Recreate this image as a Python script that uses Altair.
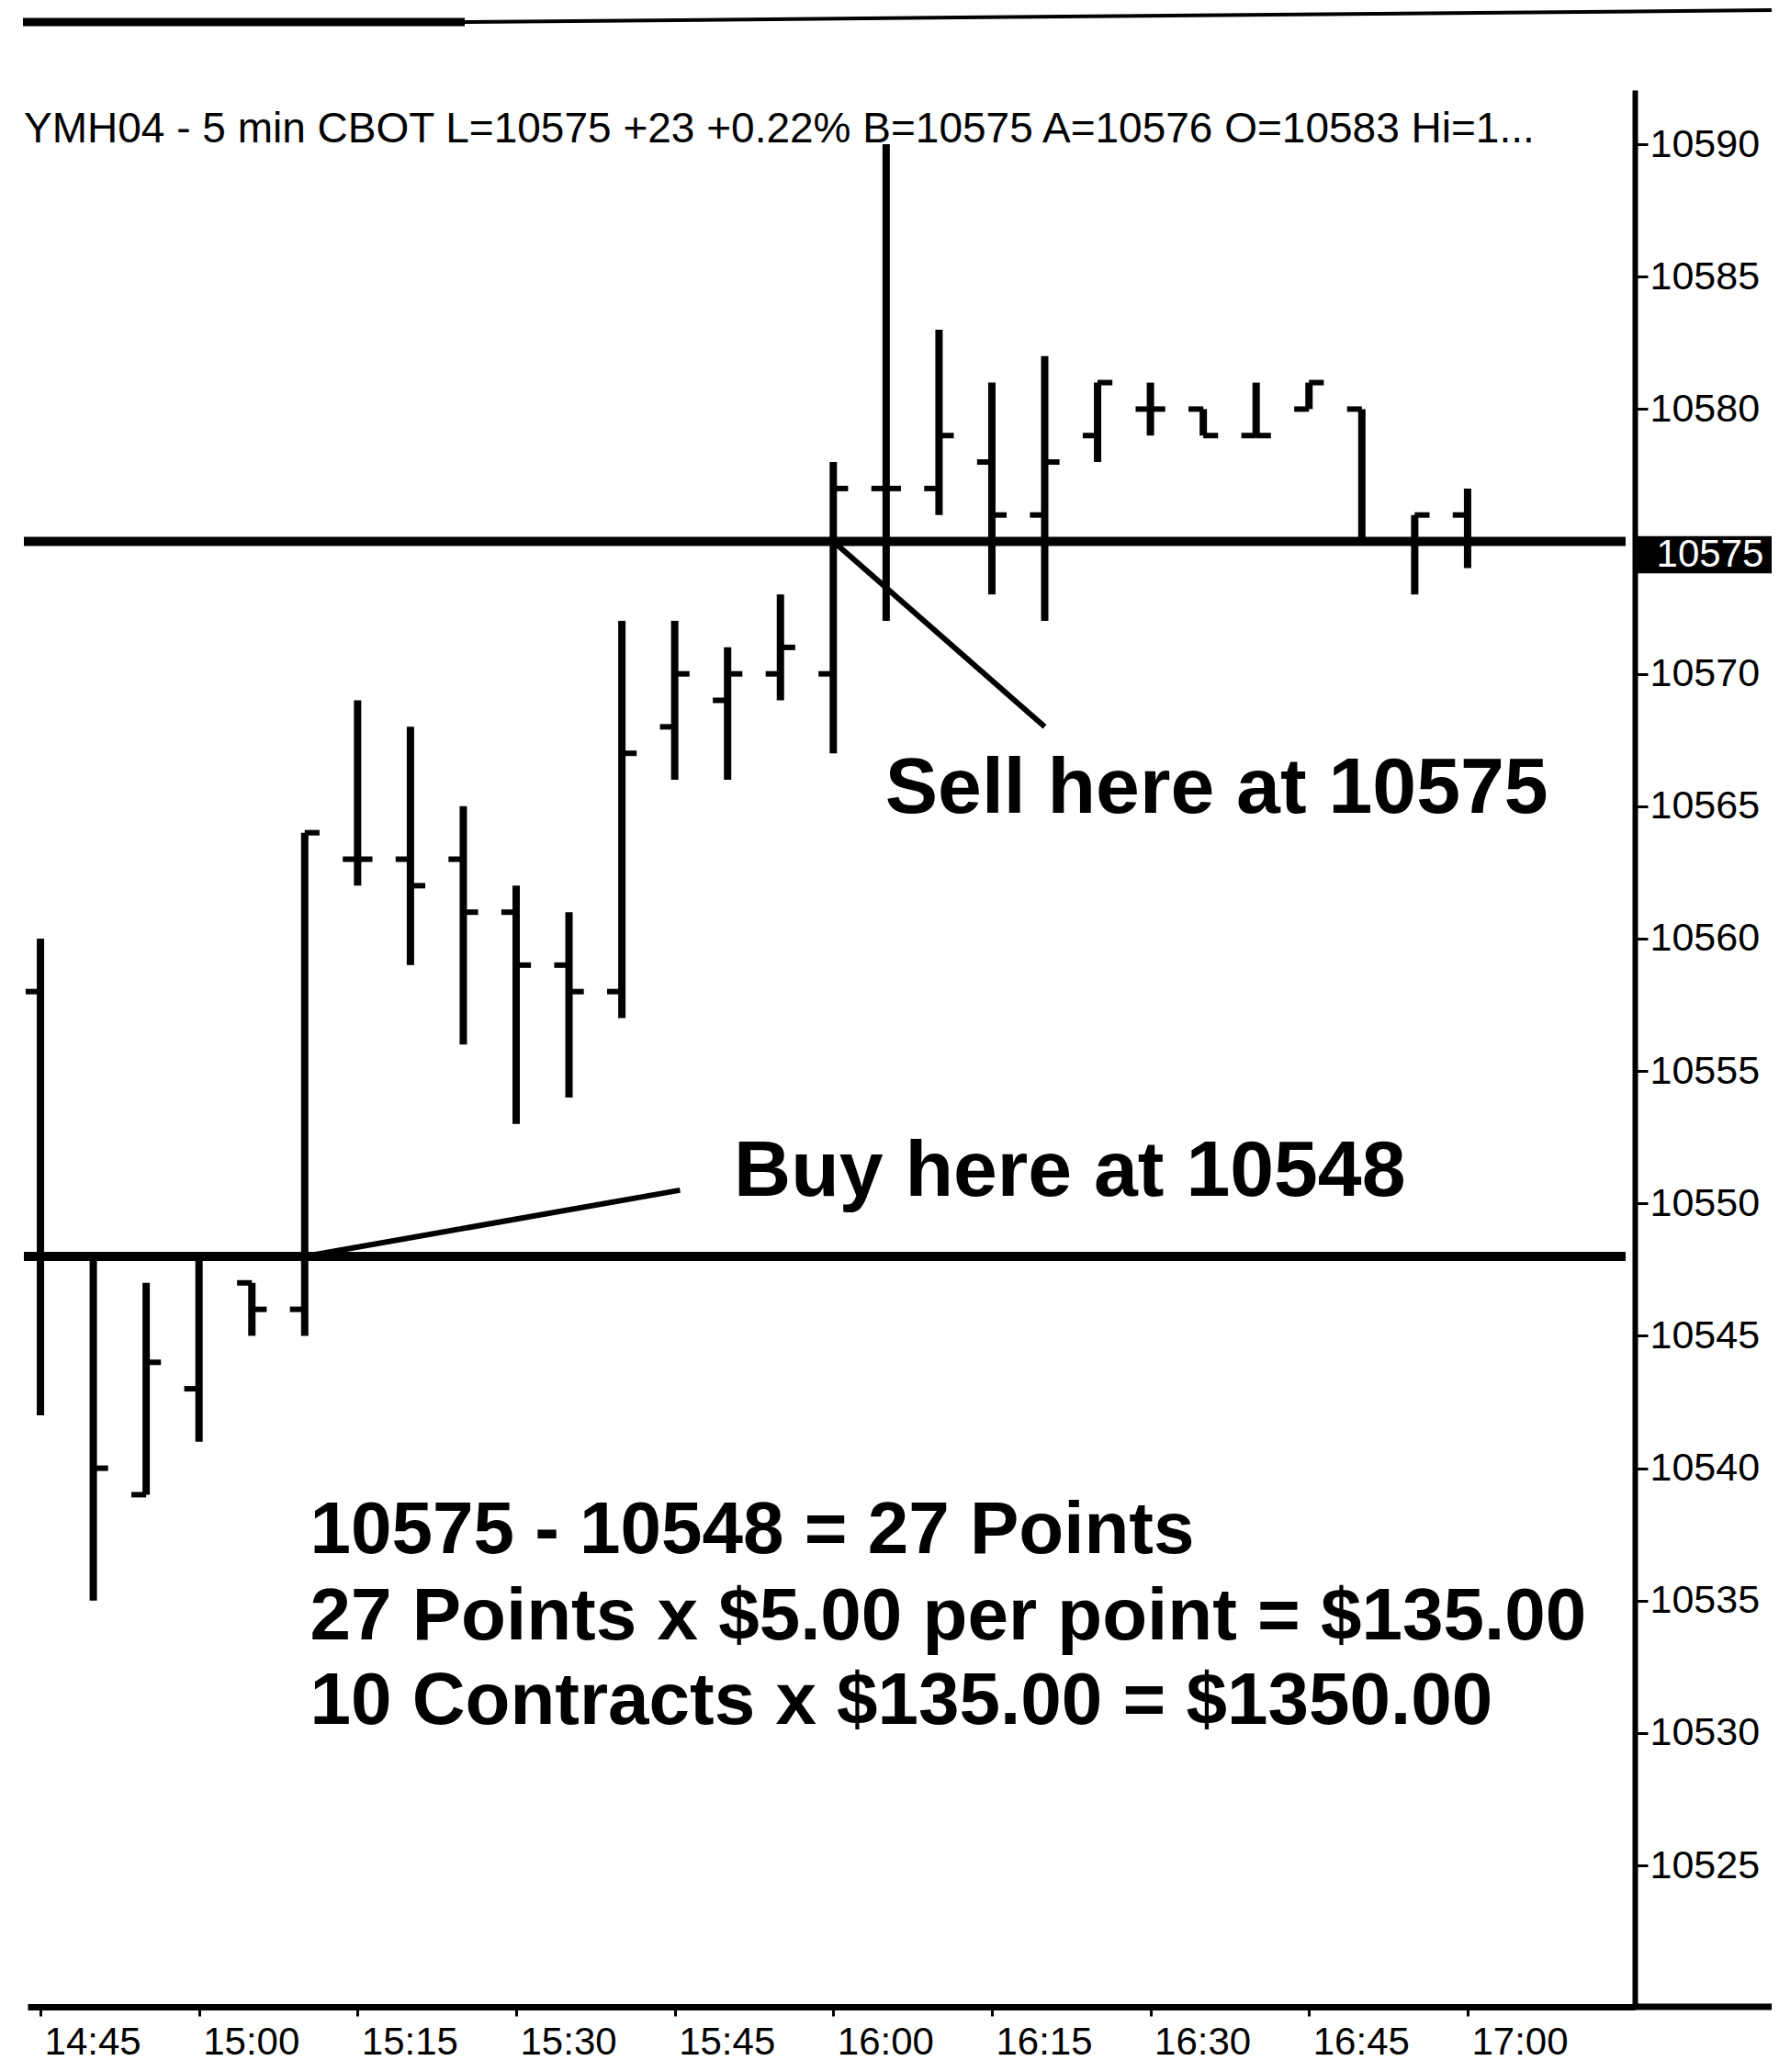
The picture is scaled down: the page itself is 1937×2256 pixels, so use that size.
import altair as alt
import pandas as pd

# ---------------- data ----------------
times = ["14:45", "14:50", "14:55", "15:00", "15:05", "15:10", "15:15", "15:20",
         "15:25", "15:30", "15:35", "15:40", "15:45", "15:50", "15:55", "16:00",
         "16:05", "16:10", "16:15", "16:20", "16:25", "16:30", "16:35", "16:40",
         "16:45", "16:50", "16:55", "17:00"]
opens = [10558, 10548, 10539, 10543, 10547, 10546, 10563, 10563, 10563, 10561,
         10559, 10558, 10568, 10569, 10570, 10570, 10577, 10577, 10578, 10576,
         10579, 10580, 10580, 10579, 10580, 10580, 10575, 10576]
highs = [10560, 10548, 10547, 10548, 10547, 10564, 10569, 10568, 10565, 10562,
         10561, 10572, 10572, 10571, 10573, 10578, 10590, 10583, 10581, 10582,
         10581, 10581, 10580, 10581, 10581, 10580, 10576, 10577]
lows = [10542, 10535, 10539, 10541, 10545, 10545, 10562, 10559, 10556, 10553,
        10554, 10557, 10566, 10566, 10569, 10567, 10572, 10576, 10573, 10572,
        10578, 10579, 10579, 10579, 10580, 10575, 10573, 10574]
closes = [10548, 10540, 10544, 10548, 10546, 10564, 10563, 10562, 10561, 10559,
          10558, 10567, 10570, 10570, 10571, 10577, 10577, 10579, 10576, 10578,
          10581, 10580, 10579, 10579, 10581, 10575, 10576, 10575]

x_tick_labels = ["14:45", "15:00", "15:15", "15:30", "15:45", "16:00", "16:15",
                 "16:30", "16:45", "17:00"]
y_tick_values = [10525, 10530, 10535, 10540, 10545, 10550, 10555, 10560, 10565,
                 10570, 10575, 10580, 10585, 10590]

header_text = ["YMH04 - 5 min  CBOT L=10575 +23 +0.22% B=10575 A=10576 O=10583 Hi=1..."]

level_values = [10575, 10548]          # sell / buy horizontal lines
last_price = ["10575"]

# pointer lines (from the horizontal lines to the captions)
ptr_t1 = ["15:10", "16:00"]
ptr_t2 = [945.5, 980.0]                # minutes after midnight
ptr_v1 = [10548, 10575]
ptr_v2 = [10550.5, 10568]

ann_labels = ["Sell here at 10575", "Buy here at 10548"]
ann_t = [964.9, 950.6]
ann_v = [10564.75, 10550.3]

calc_labels = ["10575 - 10548 = 27 Points",
               "27 Points x $5.00 per point = $135.00",
               "10 Contracts x $135.00 = $1350.00"]
calc_t = [910.5, 910.5, 910.5]
calc_v = [10536.8, 10533.55, 10530.35]


def to_min(s):
    h, m = s.split(":")
    return int(h) * 60 + int(m)


TICK = 1.4
bars = pd.DataFrame({
    "time": times,
    "t": [to_min(s) for s in times],
    "open": opens, "high": highs, "low": lows, "close": closes,
})
bars["t_open"] = bars["t"] - TICK
bars["t_close"] = bars["t"] + TICK

levels = pd.DataFrame({"v": level_values})
pointers = pd.DataFrame({"t1": [to_min(s) for s in ptr_t1], "t2": ptr_t2,
                         "v1": ptr_v1, "v2": ptr_v2})
ann = pd.DataFrame({"t": ann_t, "v": ann_v, "label": ann_labels})
calc = pd.DataFrame({"t": calc_t, "v": calc_v, "label": calc_labels})
header = pd.DataFrame({"label": header_text})
pricebox = pd.DataFrame({"v1": [10573.8], "v2": [10575.2], "vm": [10574.5],
                         "label": last_price})
one = pd.DataFrame({"k": [0]})

W, H = 1750, 2087
FONT = "Liberation Sans"

x_scale = alt.Scale(domain=[883.78, 1035.82], nice=False, zero=False)
y_scale = alt.Scale(domain=[10519.66, 10592.05], nice=False, zero=False)

x_label_expr = ("floor(datum.value/60) + ':' + (datum.value % 60 < 10 ? '0' : '') "
                "+ (datum.value % 60)")
# the 10575 label is covered by the last-price box
y_label_expr = "datum.value == 10575 ? '' : datum.label"

x_axis = alt.Axis(values=[to_min(s) for s in x_tick_labels], labelExpr=x_label_expr,
                  labelAlign="left", labelOffset=4, labelFontSize=42, labelFont=FONT,
                  labelColor="black", tickColor="black", tickSize=10, tickWidth=3,
                  domainColor="black", domainWidth=7, labelPadding=8, grid=False,
                  title=None, labelOverlap=False)
y_axis = alt.Axis(orient="right", values=y_tick_values, format="d",
                  labelExpr=y_label_expr, labelFontSize=43,
                  labelFont=FONT, labelColor="black", tickColor="black", tickSize=14,
                  tickWidth=3, domainColor="black", domainWidth=6, labelPadding=2,
                  grid=False, title=None, labelBaseline="middle", labelOverlap=False)


def X(field):
    return alt.X(field, scale=x_scale, axis=x_axis)


def Y(field):
    return alt.Y(field, scale=y_scale, axis=y_axis)


base = alt.Chart(bars)

hilo = base.mark_rule(color="black", strokeWidth=8).encode(
    x=X("t:Q"), y=Y("low:Q"), y2="high:Q",
)
open_tick = base.mark_rule(color="black", strokeWidth=6).encode(
    x=X("t_open:Q"), x2="t:Q", y=Y("open:Q"),
)
close_tick = base.mark_rule(color="black", strokeWidth=6).encode(
    x=X("t:Q"), x2="t_close:Q", y=Y("close:Q"),
)

level_lines = alt.Chart(levels).mark_rule(color="black", strokeWidth=10).encode(
    x=alt.value(-4), x2=alt.value(1740), y=Y("v:Q"),
)

pointer_lines = alt.Chart(pointers).mark_rule(color="black", strokeWidth=6).encode(
    x=X("t1:Q"), x2="t2:Q", y=Y("v1:Q"), y2="v2:Q",
)

ann_text = alt.Chart(ann).mark_text(
    align="left", baseline="alphabetic", font=FONT, fontWeight="bold",
    fontSize=86, color="black",
).encode(x=X("t:Q"), y=Y("v:Q"), text="label:N")

calc_text = alt.Chart(calc).mark_text(
    align="left", baseline="alphabetic", font=FONT, fontWeight="bold",
    fontSize=80, color="black",
).encode(x=X("t:Q"), y=Y("v:Q"), text="label:N")

header_mark = alt.Chart(header).mark_text(
    align="left", baseline="alphabetic", font=FONT, fontSize=46, color="black",
).encode(x=alt.value(-4), y=alt.value(57), text="label:N")

box = alt.Chart(pricebox).mark_rect(color="black").encode(
    x=alt.value(1748), x2=alt.value(1907), y=Y("v1:Q"), y2="v2:Q",
)
box_text = alt.Chart(pricebox).mark_text(
    align="center", baseline="middle", font=FONT, fontSize=42, color="white",
).encode(x=alt.value(1832), y=Y("vm:Q"), text="label:N")

# scanned page border at the top and axis-line continuation
border_thick = alt.Chart(one).mark_rule(color="black", strokeWidth=9).encode(
    x=alt.value(-5), x2=alt.value(476), y=alt.value(-74))
border_thin = alt.Chart(one).mark_rule(color="black", strokeWidth=4).encode(
    x=alt.value(476), x2=alt.value(1907), y=alt.value(-74), y2=alt.value(-87))
axis_ext = alt.Chart(one).mark_rule(color="black", strokeWidth=7).encode(
    x=alt.value(1750), x2=alt.value(1907), y=alt.value(H))

chart = alt.layer(
    hilo, open_tick, close_tick, level_lines, pointer_lines, ann_text, calc_text,
    header_mark, box, box_text, border_thick, border_thin, axis_ext,
).properties(
    width=W, height=H,
    autosize=alt.AutoSizeParams(type="none"),
    padding={"left": 22, "top": 90, "right": 149, "bottom": 70},
    background="white",
).configure_view(stroke=None)

chart.save("out.html", embed_options={"renderer": "svg", "actions": False})
